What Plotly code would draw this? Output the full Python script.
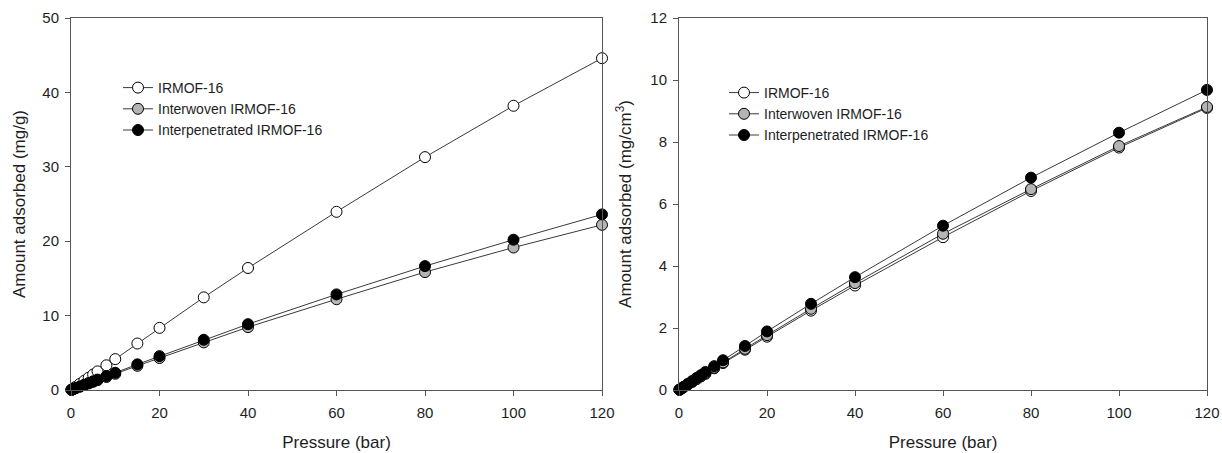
import plotly.graph_objects as go

# Pressure points (bar)
pressure = [0.1, 0.5, 1, 2, 3, 4, 5, 6, 8, 10, 15, 20, 30, 40, 60, 80, 100, 120]

# Gravimetric uptake (mg/g)
irmof16_grav = [0.04, 0.2, 0.41, 0.83, 1.24, 1.66, 2.08, 2.5, 3.32, 4.15, 6.25, 8.35, 12.45, 16.4, 23.95, 31.3, 38.2, 44.6]
interwoven_grav = [0.02, 0.11, 0.22, 0.44, 0.66, 0.88, 1.1, 1.32, 1.75, 2.18, 3.25, 4.3, 6.4, 8.45, 12.2, 15.85, 19.15, 22.2]
interpen_grav = [0.024, 0.12, 0.24, 0.47, 0.7, 0.94, 1.17, 1.4, 1.86, 2.32, 3.45, 4.55, 6.75, 8.85, 12.85, 16.65, 20.2, 23.6]

# Volumetric uptake (mg/cm3)
irmof16_vol = [0.009, 0.044, 0.088, 0.175, 0.26, 0.35, 0.44, 0.52, 0.7, 0.87, 1.3, 1.72, 2.56, 3.37, 4.93, 6.42, 7.82, 9.1]
interwoven_vol = [0.009, 0.045, 0.09, 0.18, 0.27, 0.36, 0.45, 0.54, 0.72, 0.89, 1.33, 1.77, 2.62, 3.45, 5.04, 6.48, 7.87, 9.13]
interpen_vol = [0.01, 0.049, 0.098, 0.195, 0.29, 0.39, 0.48, 0.58, 0.77, 0.96, 1.42, 1.89, 2.78, 3.64, 5.3, 6.85, 8.3, 9.68]

series_names = ["IRMOF-16", "Interwoven IRMOF-16", "Interpenetrated IRMOF-16"]
fill_colors = ["white", "#b4b4b4", "black"]

W, H = 1222, 453
FONT = "Liberation Sans, Arial, sans-serif"
TXT = "#1e1e1e"
AX = "#555555"

fig = go.Figure()

panels = [
    ("x", "y", "legend", [irmof16_grav, interwoven_grav, interpen_grav]),
    ("x2", "y2", "legend2", [irmof16_vol, interwoven_vol, interpen_vol]),
]
for xa, ya, lg, data in panels:
    for name, color, vals in zip(series_names, fill_colors, data):
        fig.add_trace(go.Scatter(
            x=pressure, y=vals, name=name, xaxis=xa, yaxis=ya, legend=lg,
            mode="lines+markers", cliponaxis=False,
            line=dict(color="#3a3a3a", width=1),
            marker=dict(size=11, color=color, line=dict(color="black", width=1)),
        ))

def px_x(p):
    return p / W

def px_y(p):
    return 1 - p / H

axis_common = dict(
    showgrid=False, zeroline=False, showline=True, linecolor=AX, linewidth=1,
    mirror=True, ticks="outside", ticklen=5, tickcolor=AX, tickwidth=1,
    tickfont=dict(family=FONT, size=15, color=TXT), automargin=False,
    ticklabeloverflow="allow",
    title_font=dict(family=FONT, size=17, color=TXT),
)

fig.update_layout(
    width=W, height=H, margin=dict(l=0, r=0, t=0, b=0),
    paper_bgcolor="white", plot_bgcolor="white",
    font=dict(family=FONT, color=TXT),
    xaxis=dict(domain=[px_x(71), px_x(602)], range=[0, 120], dtick=20,
               ticklabelstandoff=4,
               title=dict(text="Pressure (bar)", standoff=16), anchor="y", **axis_common),
    yaxis=dict(domain=[px_y(390), px_y(18)], range=[0, 50], dtick=10,
               ticklabelstandoff=3,
               title=dict(text="Amount adsorbed (mg/g)", standoff=12), anchor="x", **axis_common),
    xaxis2=dict(domain=[px_x(679), px_x(1207)], range=[0, 120], dtick=20,
                ticklabelstandoff=4,
                title=dict(text="Pressure (bar)", standoff=16), anchor="y2", **axis_common),
    yaxis2=dict(domain=[px_y(390), px_y(18)], range=[0, 12], dtick=2,
                ticklabelstandoff=3,
                title=dict(text="Amount adsorbed (mg/cm<sup>3</sup>)", standoff=14), anchor="x2", **axis_common),
    legend=dict(x=px_x(118), y=px_y(72), xanchor="left", yanchor="top",
                bgcolor="rgba(0,0,0,0)", font=dict(family=FONT, size=14, color=TXT),
                itemwidth=30, tracegroupgap=0),
    legend2=dict(x=px_x(724), y=px_y(77), xanchor="left", yanchor="top",
                 bgcolor="rgba(0,0,0,0)", font=dict(family=FONT, size=14, color=TXT),
                 itemwidth=30, tracegroupgap=0),
    showlegend=True,
)

fig.write_html("out.html")
